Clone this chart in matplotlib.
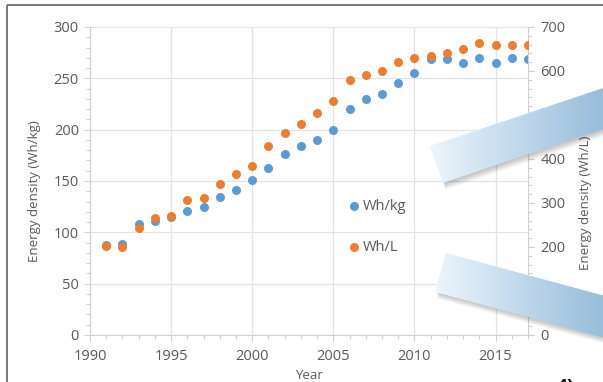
import numpy as np
import matplotlib
matplotlib.use("Agg")
import matplotlib.pyplot as plt
from matplotlib.patches import Polygon, Rectangle
from matplotlib.ticker import MultipleLocator

years = list(range(1991, 2018))
wh_per_kg = [88, 89, 108, 111, 115, 121, 125, 134, 141, 151, 163, 176, 184, 190,
             200, 220, 230, 235, 245, 255, 269, 269, 265, 270, 265, 270, 269]
wh_per_l = [203, 200, 243, 266, 270, 307, 312, 343, 367, 385, 429, 458, 480, 505,
            532, 580, 590, 601, 620, 629, 635, 640, 650, 663, 660, 660, 660]

BLUE = "#5B9BD5"
ORANGE = "#ED7D31"
TXT = "#595959"
GRID = "#e3e3e3"
TICK = "#d0d0d0"

plt.rcParams["font.family"] = ["Open Sans", "DejaVu Sans"]

W, H = 603, 382
fig = plt.figure(figsize=(W / 100, H / 100), dpi=100)
fig.patch.set_facecolor("white")

ax = fig.add_axes([90 / W, 1 - 335 / H, (528 - 90) / W, (335 - 27) / H])
ax2 = ax.twinx()

ax.set_xlim(1990, 2017)
ax.set_ylim(0, 300)
ax2.set_ylim(0, 700)

ax.xaxis.set_major_locator(MultipleLocator(5))
ax.xaxis.set_minor_locator(MultipleLocator(1))
ax.yaxis.set_major_locator(MultipleLocator(50))
ax.yaxis.set_minor_locator(MultipleLocator(10))
ax2.yaxis.set_major_locator(MultipleLocator(100))
ax2.yaxis.set_minor_locator(MultipleLocator(20))

ax.grid(True, which="major", color=GRID, linewidth=0.9, zorder=0)
ax.set_axisbelow(True)

for a in (ax, ax2):
    for s in a.spines.values():
        s.set_visible(False)
    a.tick_params(which="both", colors=TICK, labelcolor=TXT, labelsize=10.5)
    a.tick_params(which="major", length=4, width=0.8)
    a.tick_params(which="minor", length=3, width=0.8)
ax.spines["left"].set_visible(True)
ax.spines["bottom"].set_visible(True)
ax2.spines["right"].set_visible(True)
for s in (ax.spines["left"], ax.spines["bottom"], ax2.spines["right"]):
    s.set_color(TICK)
    s.set_linewidth(0.8)
ax.tick_params(axis="x", pad=6)
ax.tick_params(axis="y", pad=4)
ax2.tick_params(axis="y", pad=5)

h1 = ax.scatter(years, wh_per_kg, s=42, color=BLUE, zorder=3, label="Wh/kg", linewidths=0)
h2 = ax2.scatter(years, wh_per_l, s=42, color=ORANGE, zorder=3, label="Wh/L", linewidths=0)

ax.set_xlabel("Year", color=TXT, fontsize=9.5, labelpad=4)
ax.set_ylabel("Energy density (Wh/kg)", color=TXT, fontsize=9.5)
ax2.set_ylabel("Energy density (Wh/L)", color=TXT, fontsize=9.5)
ax.yaxis.set_label_coords(-0.112, 0.468)
ax2.yaxis.set_label_coords(1.116, 0.43)

leg = ax2.legend(handles=[h1, h2], loc="upper left",
                 bbox_to_anchor=(347 / W, 1 - 199 / H), bbox_transform=fig.transFigure,
                 frameon=False, fontsize=10.5, labelspacing=1.75,
                 handletextpad=0.1, handlelength=1.0, borderaxespad=0, borderpad=0)
for t in leg.get_texts():
    t.set_color(TXT)

# Overlay layer in pixel coordinates for the decorative ribbons
ov = fig.add_axes([0, 0, 1, 1], zorder=10)
ov.set_xlim(0, W)
ov.set_ylim(H, 0)
ov.axis("off")
ov.patch.set_alpha(0)

# outer frame
ov.add_patch(Rectangle((7, 5), 640, 420, fill=False, edgecolor="#707070", linewidth=1.3))

ribbons = [
    [(430, 146), (620, 82.4), (620, 123.2), (443, 183)],
    [(446, 253), (620, 300), (620, 342), (435, 292)],
]

c_left = np.array([236, 245, 252]) / 255
c_right = np.array([150, 188, 219]) / 255
grad = np.linspace(0, 1, 256)
img = (c_left[None, :] * (1 - grad[:, None]) + c_right[None, :] * grad[:, None])[None, :, :]

for pts in ribbons:
    pts = np.array(pts)
    # soft drop shadow below the lower edge
    for k in range(1, 7):
        sh = pts + np.array([1.0 + 0.3 * k, 1.1 * k])
        ov.add_patch(Polygon(sh, closed=True, facecolor="black", alpha=0.04,
                             edgecolor="none", zorder=1))
    poly = Polygon(pts, closed=True, facecolor="none", edgecolor="none", zorder=2)
    ov.add_patch(poly)
    x0 = pts[:, 0].min()
    y0, y1 = pts[:, 1].min(), pts[:, 1].max()
    im = ov.imshow(img, extent=(x0, 605, y1, y0), aspect="auto", zorder=2,
                   interpolation="bilinear")
    im.set_clip_path(poly)

ov.text(556, 378, "4)", fontsize=15, fontweight="bold", color="#1a1a1a",
        va="top", ha="left", zorder=5)

ov.set_xlim(0, W)
ov.set_ylim(H, 0)

fig.savefig("out.png", dpi=100)
